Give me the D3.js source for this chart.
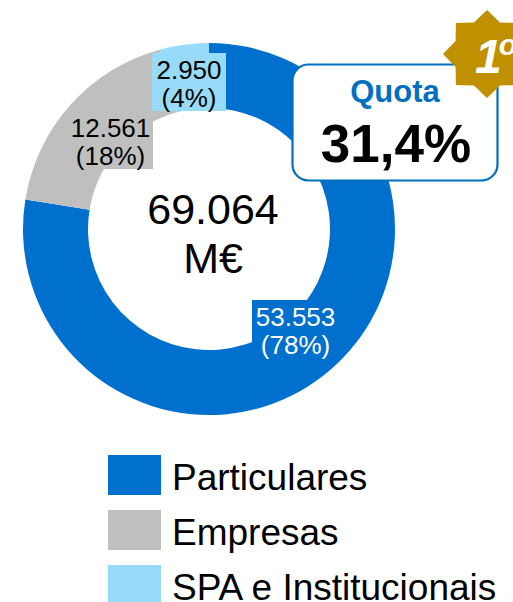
<!DOCTYPE html>
<html>
<head>
<meta charset="utf-8">
<script src="https://cdn.jsdelivr.net/npm/d3@7"></script>
<style>
  html, body { margin:0; padding:0; background:#fff; overflow:hidden; }
  svg { display:block; }
  text { font-family:"Liberation Sans", Arial, sans-serif; }
</style>
</head>
<body>
<script>
const categories = ['Particulares', 'Empresas', 'SPA e Institucionais'];
const values = [53553, 12561, 2950];
const valueLabels = ['53.553', '12.561', '2.950'];
const shareLabels = ['(78%)', '(18%)', '(4%)'];
const colors = ['#0070ce', '#bfbfbf', '#97dbf9'];
const labelColors = ['#fff', '#000', '#000'];
const totalLines = ['69.064', 'M€'];
const quotaTitle = 'Quota';
const quotaValue = '31,4%';
const rankLabel = '1';
const rankSuffix = 'o';

const width = 513, height = 602;
const cx = 209, cy = 229, outer = 186, inner = 121;

// label boxes, placed by hand like the data labels of the original
const labelBoxes = [
  {x:252, y:300, w:87, h:60},
  {x:68, y:111, w:85, h:58},
  {x:152, y:53, w:74, h:58}
];

const svg = d3.select('body').append('svg')
    .attr('width', width)
    .attr('height', height);

const pie = d3.pie().sort(null).value(d => d);
const arc = d3.arc().innerRadius(inner).outerRadius(outer);
const color = d3.scaleOrdinal().domain(categories).range(colors);

const donut = svg.append('g').attr('transform', `translate(${cx},${cy})`);
donut.selectAll('path')
    .data(pie(values))
    .enter()
    .append('path')
    .attr('d', arc)
    .attr('fill', (d, i) => color(categories[i]));

// data labels
const labels = svg.append('g').selectAll('g')
    .data(labelBoxes)
    .enter()
    .append('g');
labels.append('rect')
    .attr('x', d => d.x).attr('y', d => d.y)
    .attr('width', d => d.w).attr('height', d => d.h)
    .attr('fill', (d, i) => colors[i]);
labels.append('text')
    .attr('x', d => d.x + d.w / 2)
    .attr('y', d => d.y + 26)
    .attr('text-anchor', 'middle')
    .attr('font-size', 26)
    .attr('fill', (d, i) => labelColors[i])
    .text((d, i) => valueLabels[i]);
labels.append('text')
    .attr('x', d => d.x + d.w / 2)
    .attr('y', d => d.y + 54)
    .attr('text-anchor', 'middle')
    .attr('font-size', 26)
    .attr('fill', (d, i) => labelColors[i])
    .text((d, i) => shareLabels[i]);

// centre total
svg.append('g').selectAll('text')
    .data(totalLines)
    .enter()
    .append('text')
    .attr('x', 213)
    .attr('y', (d, i) => 224 + i * 49)
    .attr('text-anchor', 'middle')
    .attr('font-size', 43)
    .text(d => d);

// quota box
svg.append('rect')
    .attr('x', 292.5).attr('y', 64.5)
    .attr('width', 205).attr('height', 116)
    .attr('rx', 16)
    .attr('fill', '#fff')
    .attr('stroke', '#0070c0')
    .attr('stroke-width', 2.2);
svg.append('text')
    .attr('x', 395).attr('y', 102)
    .attr('text-anchor', 'middle')
    .attr('font-size', 31)
    .attr('font-weight', 'bold')
    .attr('fill', '#0070c0')
    .text(quotaTitle);
svg.append('text')
    .attr('x', 396).attr('y', 162)
    .attr('text-anchor', 'middle')
    .attr('font-size', 53)
    .attr('font-weight', 'bold')
    .text(quotaValue);

// rank badge
const starPoints = d3.range(16).map(i => {
  const a = i * Math.PI / 8, r = i % 2 ? 34 : 44;
  return [r * Math.sin(a), -r * Math.cos(a)];
});
const badge = svg.append('g').attr('transform', 'translate(487,54)');
badge.append('polygon')
    .attr('points', starPoints.map(p => p.join(',')).join(' '))
    .attr('fill', '#bf9000');
const rank = badge.append('text')
    .attr('x', -12).attr('y', 19)
    .attr('font-size', 48)
    .attr('font-style', 'italic')
    .attr('font-weight', 'bold')
    .attr('fill', '#fff')
    .text(rankLabel);
rank.append('tspan')
    .attr('dx', -3).attr('dy', -18)
    .attr('font-size', 30)
    .text(rankSuffix);

// legend
const legendY = d3.scalePoint().domain(categories).range([455, 565]);
const legend = svg.append('g').selectAll('g')
    .data(categories)
    .enter()
    .append('g')
    .attr('transform', d => `translate(108,${legendY(d)})`);
legend.append('rect')
    .attr('width', 53).attr('height', 40)
    .attr('fill', d => color(d));
legend.append('text')
    .attr('x', 64).attr('y', 35)
    .attr('font-size', 37)
    .text(d => d);
</script>
</body>
</html>
